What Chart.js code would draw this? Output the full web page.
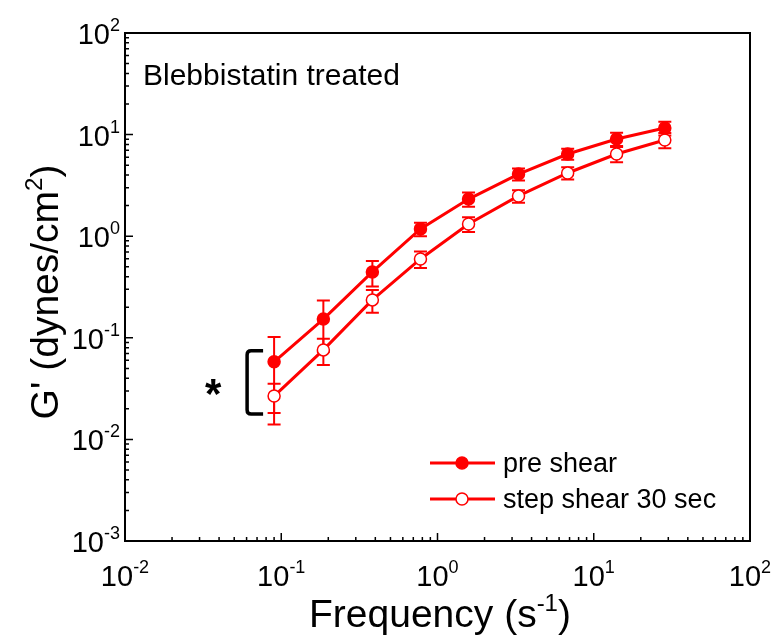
<!DOCTYPE html>
<html>
<head>
<meta charset="utf-8">
<script src="https://cdn.jsdelivr.net/npm/chart.js@4/dist/chart.umd.min.js"></script>
<style>
	body { margin: 0; background: #fff; }
	#wrap { width: 773px; height: 637px; }
</style>
</head>
<body>
<div id="wrap"><canvas id="gchart" width="773" height="637"></canvas></div>
<script>
// frequency sweep (s^-1)
const freq = [0.09, 0.186, 0.383, 0.778, 1.58, 3.3, 6.81, 14.0, 28.5];

// G' values, dynes/cm^2
const preShear = [0.058, 0.153, 0.445, 1.18, 2.32, 4.09, 6.44, 9.06, 11.6];
const preShearErr = [0.044, 0.08, 0.125, 0.18, 0.37, 0.55, 0.8, 1.35, 1.8];
const stepShear = [0.0267, 0.076, 0.236, 0.597, 1.32, 2.49, 4.19, 6.44, 8.85];
const stepShearErr = [0.0085, 0.022, 0.06, 0.11, 0.22, 0.35, 0.58, 1.1, 1.5];

const seriesNames = ['pre shear', 'step shear 30 sec'];
const xExps = [-2, -1, 0, 1, 2];
const yExps = [-3, -2, -1, 0, 1, 2];

const RED = '#ff0000';
const FONT = '"Liberation Sans", Arial, sans-serif';

function toPoints(xs, ys) {
	return xs.map((x, i) => ({x: x, y: ys[i]}));
}

// base text + raised exponent + optional tail, drawn from a left/centre/right anchor
function drawSup(ctx, base, sup, tail, x, y, align, size, supSize, rise) {
	ctx.font = size + 'px ' + FONT;
	const wb = ctx.measureText(base).width;
	const wt = ctx.measureText(tail).width;
	ctx.font = supSize + 'px ' + FONT;
	const ws = ctx.measureText(sup).width;
	const total = wb + ws + wt;
	let left = x;
	if (align === 'center') left = x - total / 2;
	if (align === 'right') left = x - total;
	ctx.textAlign = 'left';
	ctx.textBaseline = 'alphabetic';
	ctx.font = size + 'px ' + FONT;
	ctx.fillText(base, left, y);
	if (tail) ctx.fillText(tail, left + wb + ws, y);
	ctx.font = supSize + 'px ' + FONT;
	ctx.fillText(sup, left + wb, y - rise);
}

function drawMarker(ctx, x, y, filled) {
	ctx.beginPath();
	ctx.arc(x, y, 6, 0, Math.PI * 2);
	ctx.fillStyle = filled ? RED : '#fff';
	ctx.fill();
	ctx.lineWidth = 1.5;
	ctx.strokeStyle = RED;
	ctx.stroke();
}

const decorPlugin = {
	id: 'decor',

	beforeDatasetsDraw: function (chart) {
		const ctx = chart.ctx;
		const xs = chart.scales.x;
		const ys = chart.scales.y;
		const sets = [[preShear, preShearErr], [stepShear, stepShearErr]];

		ctx.save();
		ctx.strokeStyle = RED;
		ctx.lineWidth = 2;
		sets.forEach(function (s) {
			freq.forEach(function (f, i) {
				const px = xs.getPixelForValue(f);
				const top = ys.getPixelForValue(s[0][i] + s[1][i]);
				const bot = ys.getPixelForValue(s[0][i] - s[1][i]);
				ctx.beginPath();
				ctx.moveTo(px, top);
				ctx.lineTo(px, bot);
				ctx.moveTo(px - 6.5, top);
				ctx.lineTo(px + 6.5, top);
				ctx.moveTo(px - 6.5, bot);
				ctx.lineTo(px + 6.5, bot);
				ctx.stroke();
			});
		});
		ctx.restore();
	},

	afterDraw: function (chart) {
		const ctx = chart.ctx;
		const area = chart.chartArea;
		const xs = chart.scales.x;
		const ys = chart.scales.y;

		ctx.save();
		ctx.fillStyle = '#000';
		ctx.strokeStyle = '#000';

		// frame
		ctx.lineWidth = 2;
		ctx.strokeRect(area.left, area.top, area.right - area.left, area.bottom - area.top);

		// inward ticks, bottom and left only
		ctx.lineWidth = 1.5;
		ctx.beginPath();
		for (let e = -2; e < 2; e++) {
			for (let m = 1; m <= 9; m++) {
				const px = xs.getPixelForValue(m * Math.pow(10, e));
				const len = m === 1 ? 8 : 4;
				ctx.moveTo(px, area.bottom);
				ctx.lineTo(px, area.bottom - len);
			}
		}
		for (let e = -3; e < 2; e++) {
			for (let m = 1; m <= 9; m++) {
				const py = ys.getPixelForValue(m * Math.pow(10, e));
				const len = m === 1 ? 8 : 4;
				ctx.moveTo(area.left, py);
				ctx.lineTo(area.left + len, py);
			}
		}
		ctx.stroke();

		// tick labels
		xExps.forEach(function (e) {
			drawSup(ctx, '10', String(e), '', xs.getPixelForValue(Math.pow(10, e)), area.bottom + 45, 'center', 29, 18, 13);
		});
		yExps.forEach(function (e) {
			drawSup(ctx, '10', String(e), '', area.left - 5, ys.getPixelForValue(Math.pow(10, e)) + 11, 'right', 29, 18, 13);
		});

		// axis titles
		drawSup(ctx, 'Frequency (s', '-1', ')', 440, 627, 'center', 39, 24, 16);

		ctx.save();
		ctx.translate(58, 292);
		ctx.rotate(-Math.PI / 2);
		drawSup(ctx, "G' (dynes/cm", '2', ')', 0, 0, 'center', 39, 24, 16);
		ctx.restore();

		// panel title
		ctx.fillStyle = '#000';
		ctx.font = '30px ' + FONT;
		ctx.textAlign = 'left';
		ctx.fillText('Blebbistatin treated', area.left + 18, area.top + 52);

		// legend
		const rows = [463, 499];
		rows.forEach(function (ry, i) {
			ctx.strokeStyle = RED;
			ctx.lineWidth = 3;
			ctx.beginPath();
			ctx.moveTo(430, ry);
			ctx.lineTo(495, ry);
			ctx.stroke();
			drawMarker(ctx, 462, ry, i === 0);
			ctx.fillStyle = '#000';
			ctx.font = '27px ' + FONT;
			ctx.fillText(seriesNames[i], 503, ry + 9);
		});

		// significance bracket at the lowest frequency
		const bx = xs.getPixelForValue(freq[0]) - 27;
		const bTop = ys.getPixelForValue(preShear[0]) - 11;
		const bBot = ys.getPixelForValue(stepShear[0]) + 18;
		ctx.strokeStyle = '#000';
		ctx.lineWidth = 3.5;
		ctx.lineJoin = 'round';
		ctx.beginPath();
		ctx.moveTo(bx + 16, bTop);
		ctx.lineTo(bx + 4, bTop);
		ctx.quadraticCurveTo(bx, bTop, bx, bTop + 4);
		ctx.lineTo(bx, bBot - 4);
		ctx.quadraticCurveTo(bx, bBot, bx + 4, bBot);
		ctx.lineTo(bx + 16, bBot);
		ctx.stroke();
		ctx.fillStyle = '#000';
		ctx.font = 'bold 42px ' + FONT;
		ctx.textAlign = 'center';
		ctx.fillText('*', bx - 34, (bTop + bBot) / 2 + 26);

		ctx.restore();
	}
};

const config = {
	type: 'line',
	data: {
		datasets: [{
			label: seriesNames[0],
			data: toPoints(freq, preShear),
			borderColor: RED,
			borderWidth: 3,
			pointRadius: 6,
			pointBackgroundColor: RED,
			pointBorderColor: RED,
			pointBorderWidth: 1.5,
			fill: false,
			tension: 0,
		}, {
			label: seriesNames[1],
			data: toPoints(freq, stepShear),
			borderColor: RED,
			borderWidth: 3,
			pointRadius: 6,
			pointBackgroundColor: '#fff',
			pointBorderColor: RED,
			pointBorderWidth: 1.5,
			fill: false,
			tension: 0,
		}]
	},
	options: {
		responsive: false,
		animation: false,
		devicePixelRatio: 1,
		layout: {
			padding: {left: 125, right: 23, top: 33, bottom: 96}
		},
		scales: {
			x: {type: 'logarithmic', min: 0.01, max: 100, display: false},
			y: {type: 'logarithmic', min: 0.001, max: 100, display: false},
		},
		plugins: {
			legend: {display: false},
			tooltip: {enabled: false},
		}
	},
	plugins: [decorPlugin]
};

new Chart(document.getElementById('gchart'), config);
</script>
</body>
</html>
